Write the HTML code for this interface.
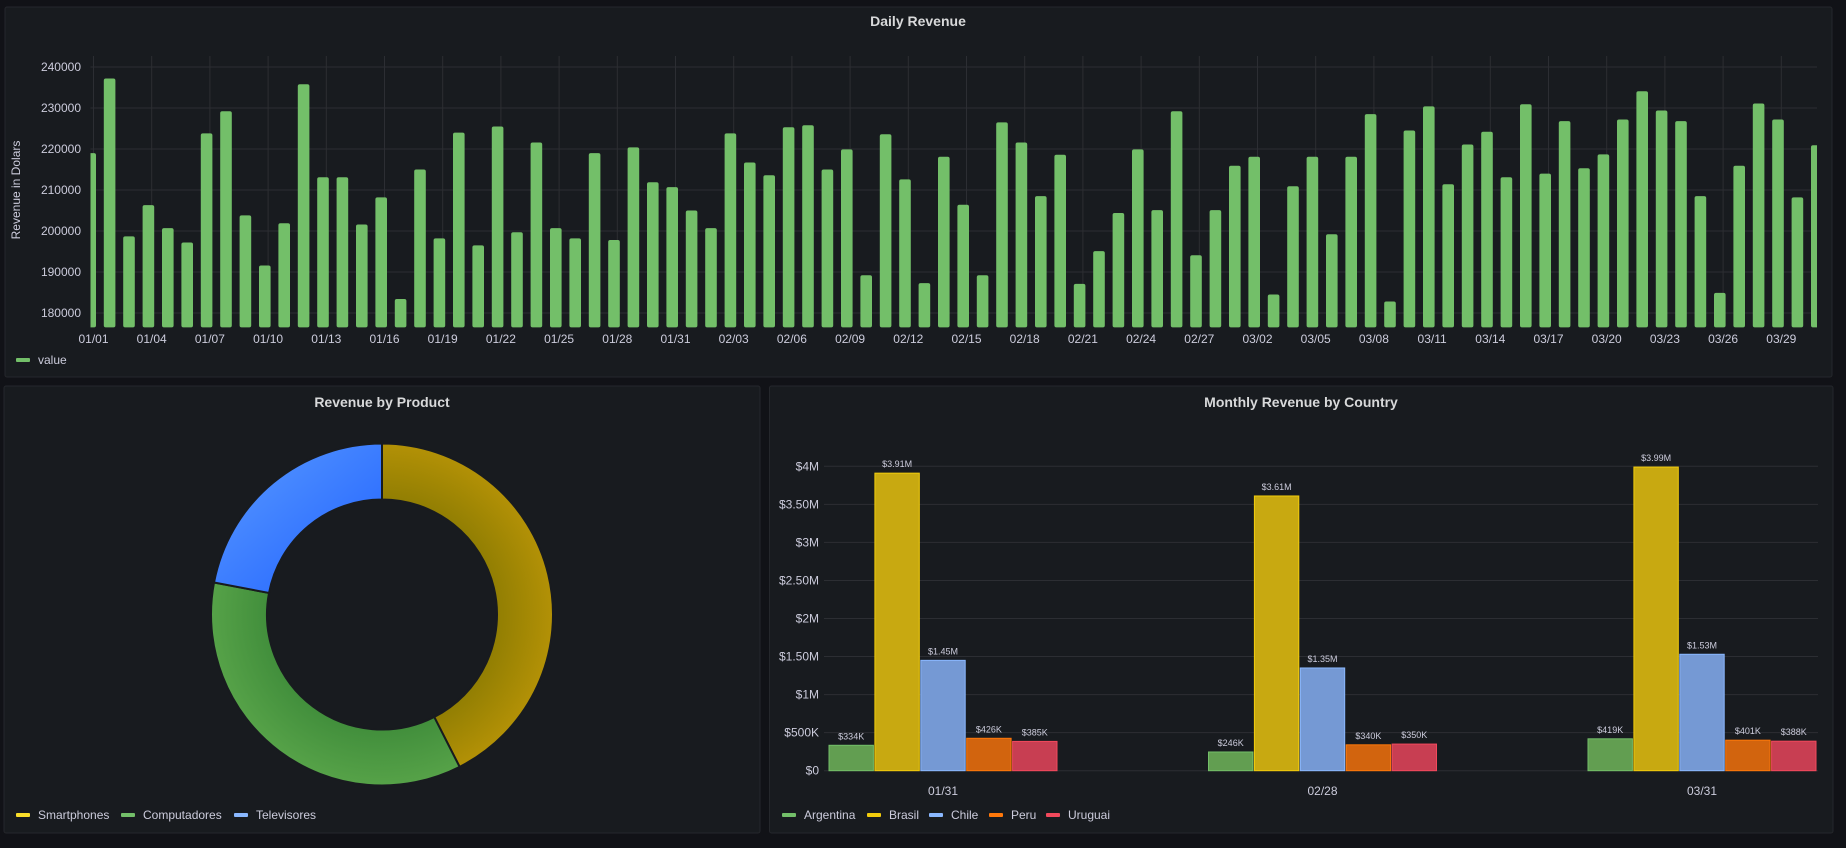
<!DOCTYPE html>
<html><head><meta charset="utf-8">
<style>
html,body{margin:0;padding:0;background:#111217;}
body{width:1846px;height:843px;overflow:hidden;font-family:"Liberation Sans",sans-serif;}
svg text{font-family:"Liberation Sans",sans-serif;}
</style></head>
<body>
<svg id="dash" width="1846" height="843" viewBox="0 0 1846 843" xmlns="http://www.w3.org/2000/svg">
<defs>
<radialGradient id="gY" cx="382" cy="614.5" r="171" gradientUnits="userSpaceOnUse"><stop offset="0.6" stop-color="#8a7a02"/><stop offset="1" stop-color="#b39106"/></radialGradient>
<radialGradient id="gG" cx="382" cy="614.5" r="171" gradientUnits="userSpaceOnUse"><stop offset="0.6" stop-color="#3d8a39"/><stop offset="1" stop-color="#56a248"/></radialGradient>
<linearGradient id="gB" x1="0" y1="0" x2="1" y2="1"><stop offset="0" stop-color="#5a9bff"/><stop offset="1" stop-color="#1f60ff"/></linearGradient>
<clipPath id="topClip"><rect x="90.5" y="40" width="1726.5" height="300"/></clipPath>
</defs>
<rect x="5" y="7" width="1827" height="370" rx="2" fill="#181b1f" stroke="#25272c"/>
<text x="918" y="26" text-anchor="middle" font-size="14" font-weight="bold" fill="#d8d9da">Daily Revenue</text>
<g id="topGrid"></g>
<g id="topBars" clip-path="url(#topClip)"></g>
<g id="topAxis"></g>
<text transform="translate(20,190) rotate(-90)" text-anchor="middle" font-size="12" fill="#ccccdc">Revenue in Dolars</text>
<rect x="16" y="358" width="14" height="4" rx="1" fill="#73bf69"/>
<text x="38" y="364" font-size="12" fill="#ccccdc">value</text>

<rect x="4" y="386" width="756" height="447" rx="2" fill="#181b1f" stroke="#25272c"/>
<text x="382" y="407" text-anchor="middle" font-size="14" font-weight="bold" fill="#d8d9da">Revenue by Product</text>
<g id="pie"></g>
<g id="pieLegend"></g>

<rect x="769.5" y="386" width="1063.5" height="447" rx="2" fill="#181b1f" stroke="#25272c"/>
<text x="1301" y="407" text-anchor="middle" font-size="14" font-weight="bold" fill="#d8d9da">Monthly Revenue by Country</text>
<g id="barGrid"></g>
<g id="barMarks"></g>
<g id="barLegend"></g>
</svg>
<script>
// ---------- Daily revenue data ----------
const dayValues = [
219000,237200,198700,206300,200700,197200,223800,229200,203800,191600,
201900,235800,213100,213100,201600,208200,183400,215000,198200,224000,
196500,225500,199700,221600,200700,198200,219000,197800,220400,211900,
210700,205000,200700,223800,216700,213600,225300,225800,215000,219900,
189200,223600,212600,187300,218100,206400,189200,226500,221600,208500,
218600,187100,195100,204400,219900,205100,229200,194100,205100,215900,
218100,184500,210900,218100,199200,218100,228500,182800,224500,230400,
211400,221100,224200,213100,230900,214000,226800,215300,218700,227200,
234100,229400,226800,208500,184900,215900,231100,227200,208200,220900];
const dayTickLabels = ["01/01","01/04","01/07","01/10","01/13","01/16","01/19","01/22","01/25","01/28","01/31","02/03","02/06","02/09","02/12","02/15","02/18","02/21","02/24","02/27","03/02","03/05","03/08","03/11","03/14","03/17","03/20","03/23","03/26","03/29"];
const dayTickValues = [180000,190000,200000,210000,220000,230000,240000];

// ---------- Product data ----------
const productNames = ["Smartphones","Computadores","Televisores"];
const productValues = [42.5,35.5,22.0];

// ---------- Country data ----------
const monthLabels = ["01/31","02/28","03/31"];
const countryNames = ["Argentina","Brasil","Chile","Peru","Uruguai"];
const argentinaValues = [334000,246000,419000];
const brasilValues = [3910000,3610000,3990000];
const chileValues = [1450000,1350000,1530000];
const peruValues = [426000,340000,401000];
const uruguaiValues = [385000,350000,388000];
const moneyTicks = [0,500000,1000000,1500000,2000000,2500000,3000000,3500000,4000000];

const NS="http://www.w3.org/2000/svg";
function mk(tag,attrs,parent){const e=document.createElementNS(NS,tag);for(const k in attrs)e.setAttribute(k,attrs[k]);parent.appendChild(e);return e;}

// ---------- Daily chart ----------
(function(){
  const x0=90.2, step=19.40, bw=11.6;
  const yT=67, pxPer=41/10000;
  const xs=i=>x0+i*step;
  const ys=v=>yT+(240000-v)*pxPer;
  const base=324.4;
  const grid=document.getElementById('topGrid'), bars=document.getElementById('topBars'), ax=document.getElementById('topAxis');
  dayTickValues.forEach(v=>{
    const l=mk('line',{x1:90.5,x2:1817,y1:ys(v),y2:ys(v),stroke:'#2c2e33','stroke-width':1},grid);
    
    
    const t=mk('text',{x:81,y:ys(v)+4,'text-anchor':'end','font-size':12,fill:'#ccccdc'},ax);
    t.textContent=v;
    
    
  });
  dayTickLabels.forEach((lab,k)=>{
    const x=xs(k*3)+3.3;
    const l=mk('line',{x1:x,x2:x,y1:56,y2:base,stroke:'#2c2e33','stroke-width':1},grid);
    
    
    const t=mk('text',{x:x,y:343,'text-anchor':'middle','font-size':12,fill:'#ccccdc'},ax);
    t.textContent=lab;
    
    
  });
  dayValues.forEach((v,i)=>{
    const y=ys(v);
    const r=mk('rect',{x:xs(i)-bw/2,y:y,width:bw,height:base-y+3,rx:2,fill:'#73bf69'},bars);
    
    
  });
})();

// ---------- Donut ----------
(function(){
  const cx=382, cy=614.5, R=171, r=115;
  const g=document.getElementById('pie');
  const fills=['url(#gY)','url(#gG)','url(#gB)'];
  const total=productValues.reduce((a,b)=>a+b,0);
  let a0=0;
  const pt=(rad,a)=>[cx+rad*Math.sin(a),cy-rad*Math.cos(a)];
  productValues.forEach((v,i)=>{
    const a1=a0+v/total*2*Math.PI;
    const big=(a1-a0)>Math.PI?1:0;
    const p1=pt(R,a0),p2=pt(R,a1),p3=pt(r,a1),p4=pt(r,a0);
    const d=`M${p1[0]},${p1[1]} A${R},${R} 0 ${big} 1 ${p2[0]},${p2[1]} L${p3[0]},${p3[1]} A${r},${r} 0 ${big} 0 ${p4[0]},${p4[1]} Z`;
    const p=mk('path',{d:d,fill:fills[i],stroke:'#181b1f','stroke-width':2},g);
    
    
    a0=a1;
  });
  const lg=document.getElementById('pieLegend');
  const cols=['#fade2a','#73bf69','#8ab8ff'];
  const lx=[16,121,234];
  productNames.forEach((n,i)=>{
    const s=mk('rect',{x:lx[i],y:813,width:14,height:4,rx:1,fill:cols[i]},lg);
    
    
    const t=mk('text',{x:lx[i]+22,y:819,'font-size':12,fill:'#ccccdc'},lg);
    t.textContent=n;
    
    
  });
})();

// ---------- Grouped bar chart ----------
(function(){
  const y0=770.7, pxPerM=304.4/4000000;
  const ys=v=>y0-v*pxPerM;
  const groupCenter=i=>943+i*379.5;
  const pitch=45.9, bw=44.4;
  const grid=document.getElementById('barGrid'), marks=document.getElementById('barMarks');
  const fmt=v=>v===0?'$0':v>=1000000?('$'+(v/1000000).toFixed(v%1000000===0?0:2)+'M'):('$'+Math.round(v/1000)+'K');
  moneyTicks.forEach(v=>{
    const l=mk('line',{x1:824,x2:1818,y1:ys(v),y2:ys(v),stroke:'#2c2e33','stroke-width':1},grid);
    
    
    const t=mk('text',{x:819,y:ys(v)+4,'text-anchor':'end','font-size':12,fill:'#ccccdc'},grid);
    t.textContent=fmt(v);
    
    
  });
  const series=[argentinaValues,brasilValues,chileValues,peruValues,uruguaiValues];
  const fills=['#629e51','#c8a911','#7599d4','#d2640e','#c83e52'];
  const strokes=['#73bf69','#f2cc0c','#8ab8ff','#ff780a','#f2495c'];
  monthLabels.forEach((m,i)=>{
    const t=mk('text',{x:groupCenter(i),y:795,'text-anchor':'middle','font-size':12,fill:'#ccccdc'},marks);
    t.textContent=m;
    
    
    series.forEach((s,j)=>{
      const cx=groupCenter(i)+(j-2)*pitch;
      const y=ys(s[i]);
      const r=mk('rect',{x:cx-bw/2,y:y,width:bw,height:y0-y,fill:fills[j],stroke:strokes[j],'stroke-width':1},marks);
      
      
      const lt=mk('text',{x:cx,y:y-6,'text-anchor':'middle','font-size':9,fill:'#ccccdc'},marks);
      lt.textContent=s[i]>=1000000?('$'+(s[i]/1000000).toFixed(2)+'M'):('$'+Math.round(s[i]/1000)+'K');
      
      
    });
  });
  const lg=document.getElementById('barLegend');
  const lx=[782,867,929,989,1046];
  countryNames.forEach((n,j)=>{
    const s=mk('rect',{x:lx[j],y:813,width:14,height:4,rx:1,fill:strokes[j]},lg);
    
    
    const t=mk('text',{x:lx[j]+22,y:819,'font-size':12,fill:'#ccccdc'},lg);
    t.textContent=n;
    
    
  });
})();
</script>
</body></html>
